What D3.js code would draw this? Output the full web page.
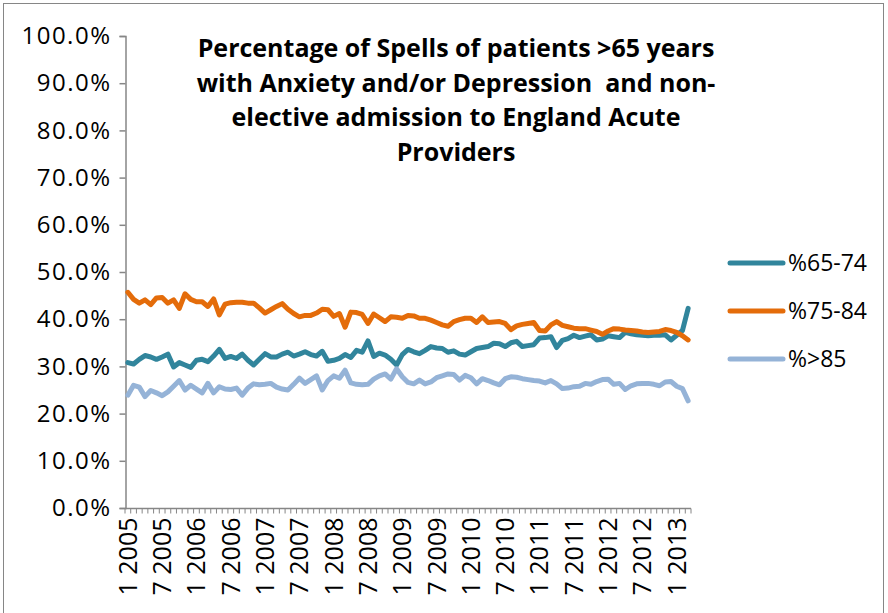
<!DOCTYPE html>
<html>
<head>
<meta charset="utf-8">
<script src="https://cdn.jsdelivr.net/npm/d3@7"></script>
<style>
  body { margin: 0; background: #fff; }
  svg { display: block; }
  text { font-family: "Open Sans", sans-serif; fill: #000; }
</style>
</head>
<body>
<svg id="chart" width="888" height="613"></svg>
<script>
// monthly categories, Jan 2005 .. Mar 2013
let startYear = 2005
let monthCount = 99
let months = []
for (let i = 0; i < monthCount; i++) {
  months.push((i % 12 + 1) + ' ' + (startYear + Math.floor(i / 12)))
}

let seriesNames = ['%65-74', '%75-84', '%>85']
let seriesColors = ['#31859C', '#E46C0A', '#95B3D7']

let pct65to74 = [30.8,30.5,31.5,32.3,32.0,31.5,32.0,32.6,29.9,30.8,30.3,29.8,31.3,31.5,31.0,32.2,33.6,31.7,32.1,31.7,
  32.6,31.3,30.3,31.5,32.7,32.0,32.0,32.6,33.0,32.2,32.6,33.1,32.5,32.2,33.2,31.1,31.3,31.7,32.5,31.9,
  33.4,33.0,35.4,32.1,32.8,32.4,31.5,30.3,32.5,33.6,33.1,32.7,33.4,34.2,33.9,33.8,33.0,33.3,32.6,32.4,
  33.1,33.8,34.0,34.2,34.9,34.8,34.2,35.0,35.3,34.2,34.4,34.6,36.0,36.1,36.3,34.0,35.5,35.9,36.6,36.1,
  36.4,36.7,35.6,35.8,36.5,36.3,36.1,37.2,36.9,36.7,36.6,36.5,36.6,36.6,36.7,35.6,36.6,37.6,42.3]

let pct75to84 = [45.7,44.2,43.4,44.1,43.1,44.5,44.6,43.4,44.1,42.3,45.4,44.2,43.7,43.7,42.7,44.3,40.9,43.2,43.5,43.6,
  43.6,43.4,43.4,42.4,41.3,42.0,42.7,43.3,42.1,41.2,40.5,40.8,40.8,41.3,42.1,42.0,40.6,41.2,38.3,41.5,
  41.4,41.0,39.1,41.1,40.3,39.5,40.5,40.4,40.2,40.8,40.7,40.2,40.2,39.8,39.3,38.8,38.5,39.5,39.9,40.2,
  40.2,39.3,40.5,39.3,39.4,39.5,39.1,37.8,38.6,38.9,39.1,39.3,37.6,37.5,38.8,39.5,38.7,38.4,38.1,38.0,
  38.0,37.7,37.4,36.8,37.5,38.0,37.9,37.7,37.6,37.5,37.3,37.2,37.3,37.4,37.8,37.6,37.2,36.5,35.6]

let pctOver85 = [23.9,26.0,25.6,23.6,24.9,24.4,23.8,24.6,25.8,27.0,25.0,26.0,25.2,24.4,26.4,24.4,25.7,25.2,25.1,25.4,
  23.9,25.4,26.3,26.1,26.2,26.4,25.6,25.2,25.0,26.2,27.5,26.4,27.2,28.0,25.0,27.0,28.0,27.5,29.2,26.5,
  26.2,26.1,26.2,27.3,28.0,28.4,27.3,29.5,27.8,26.6,26.3,27.1,26.3,26.7,27.6,28.0,28.4,28.3,27.1,28.1,
  27.6,26.3,27.4,27.0,26.5,26.1,27.4,27.8,27.7,27.4,27.2,27.0,26.9,26.5,27.0,26.3,25.3,25.4,25.7,25.8,
  26.4,26.2,26.8,27.2,27.3,26.2,26.4,25.1,25.9,26.3,26.4,26.4,26.2,25.9,26.7,26.8,25.8,25.3,22.7]

let yTicks = [0, 10, 20, 30, 40, 50, 60, 70, 80, 90, 100]
let titleLines = ['Percentage of Spells of patients >65 years',
  'with Anxiety and/or Depression  and non-',
  'elective admission to England Acute',
  'Providers']

let allSeries = [pct65to74, pct75to84, pctOver85]

let svg = d3.select('#chart')

// outer chart border
svg.append('rect')
   .attr('x', 3.5).attr('y', 3.5)
   .attr('width', 880).attr('height', 640)
   .attr('fill', 'none')
   .attr('stroke', '#868686')
   .attr('stroke-width', 1)

let xScale = d3.scaleBand()
               .domain(months)
               .range([125, 691])
               .padding(0)

let yScale = d3.scaleLinear()
               .domain([0, 100])
               .range([508, 36])

// y axis
let yAxis = d3.axisLeft(yScale)
              .tickValues(yTicks)
              .tickSize(6)
              .tickPadding(8)
              .tickFormat((d) => d.toFixed(1) + '%')

let yG = svg.append('g')
            .attr('transform', 'translate(125.5, 0)')
            .call(yAxis)
yG.select('.domain').attr('stroke', '#868686').attr('stroke-width', 1.5)
yG.selectAll('.tick line').attr('stroke', '#868686').attr('stroke-width', 1.5)
yG.selectAll('.tick text')
  .style('font-family', '"Open Sans", sans-serif')
  .style('font-size', '24px')
  .style('letter-spacing', '1.5px')
  .attr('fill', '#000')

// x axis: a tick between every month, a label every 6 months
let xG = svg.append('g').attr('transform', 'translate(0, 508.5)')
xG.append('line')
  .attr('x1', xScale.range()[0]).attr('x2', xScale.range()[1])
  .attr('stroke', '#868686').attr('stroke-width', 1.5)
xG.selectAll('.mtick')
  .data(months.concat(['end']))
  .enter()
  .append('line')
  .attr('class', 'mtick')
  .attr('x1', (d, i) => xScale.range()[0] + i * xScale.bandwidth())
  .attr('x2', (d, i) => xScale.range()[0] + i * xScale.bandwidth())
  .attr('y1', 0).attr('y2', 5)
  .attr('stroke', '#868686').attr('stroke-width', 1)

xG.selectAll('.xlabel')
  .data(months.filter((d, i) => i % 6 === 0))
  .enter()
  .append('text')
  .attr('class', 'xlabel')
  .attr('transform', (d) => 'translate(' + (xScale(d) + xScale.bandwidth() / 2 + 9) + ', 9) rotate(-90)')
  .attr('text-anchor', 'end')
  .style('font-size', '25px')
  .text((d) => d)

// lines
let line = d3.line()
             .x((d, i) => xScale(months[i]) + xScale.bandwidth() / 2)
             .y((d) => yScale(d))

svg.selectAll('.series')
   .data(allSeries)
   .enter()
   .append('path')
   .attr('class', 'series')
   .attr('d', (d) => line(d))
   .attr('fill', 'none')
   .attr('stroke', (d, i) => seriesColors[i])
   .attr('stroke-width', 5)
   .attr('stroke-linejoin', 'round')
   .attr('stroke-linecap', 'round')

// title
svg.append('text')
   .attr('x', 456)
   .attr('y', 57)
   .attr('text-anchor', 'middle')
   .style('font-size', '25px')
   .style('font-weight', 'bold')
   .style('white-space', 'pre')
   .selectAll('tspan')
   .data(titleLines)
   .enter()
   .append('tspan')
   .attr('x', 456)
   .attr('dy', (d, i) => i === 0 ? 0 : 34.5)
   .text((d) => d)

// legend
let legend = svg.selectAll('.legend')
                .data(seriesNames)
                .enter()
                .append('g')
                .attr('class', 'legend')
                .attr('transform', (d, i) => 'translate(730, ' + (263 + i * 48) + ')')
legend.append('line')
      .attr('x1', 0).attr('x2', 53)
      .attr('stroke', (d, i) => seriesColors[i])
      .attr('stroke-width', 5)
      .attr('stroke-linecap', 'round')
legend.append('text')
      .attr('x', 58)
      .attr('y', 8)
      .style('font-size', '23px')
      .text((d) => d)
</script>
</body>
</html>
